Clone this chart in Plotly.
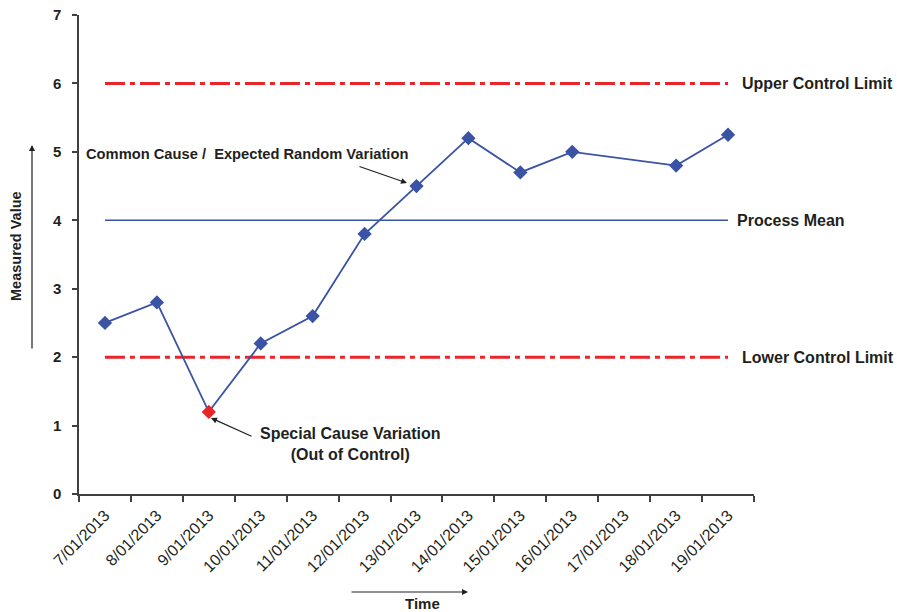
import plotly.graph_objects as go

# Daily measurements (17/01 has no reading)
dates = ["7/01/2013", "8/01/2013", "9/01/2013", "10/01/2013", "11/01/2013",
         "12/01/2013", "13/01/2013", "14/01/2013", "15/01/2013", "16/01/2013",
         "17/01/2013", "18/01/2013", "19/01/2013"]
values = [2.5, 2.8, 1.2, 2.2, 2.6, 3.8, 4.5, 5.2, 4.7, 5.0, None, 4.8, 5.25]
out_of_control = ["9/01/2013"]

process_mean = 4
upper_limit = 6
lower_limit = 2
y_ticks = [0, 1, 2, 3, 4, 5, 6, 7]

W, H = 897, 612
ML, MR, MT, MB = 79, 143, 15, 118
PW, PH = W - ML - MR, H - MT - MB

BLUE = "#3A53A4"
RED = "#E8262A"
INK = "#231F20"
AXIS = "#404040"
FONT = "Liberation Sans, Arial, sans-serif"


def px(x):
    return (x - ML) / PW


def py(y):
    return 1 - (y - MT) / PH


marker_colors = [RED if d in out_of_control else BLUE for d in dates]
limit_dash = "20px,5px,5px,5px"

fig = go.Figure()

fig.add_trace(go.Scatter(x=[dates[0], dates[-1]], y=[upper_limit, upper_limit],
                         mode="lines", line=dict(color=RED, width=3, dash=limit_dash),
                         hoverinfo="skip"))
fig.add_trace(go.Scatter(x=[dates[0], dates[-1]], y=[lower_limit, lower_limit],
                         mode="lines", line=dict(color=RED, width=3, dash=limit_dash),
                         hoverinfo="skip"))
fig.add_trace(go.Scatter(x=[dates[0], dates[-1]], y=[process_mean, process_mean],
                         mode="lines", line=dict(color=BLUE, width=1.5),
                         hoverinfo="skip"))
fig.add_trace(go.Scatter(x=dates, y=values, mode="lines+markers", connectgaps=True,
                         line=dict(color=BLUE, width=1.8),
                         marker=dict(symbol="diamond", size=11, color=marker_colors,
                                     line=dict(width=0))))

label_font = dict(family=FONT, size=16, color=INK, weight="bold")
arrow = dict(showarrow=True, arrowhead=2, arrowsize=1, arrowwidth=1.2,
             arrowcolor=INK, text="", xref="paper", yref="paper")

annotations = [
    dict(x=px(740), y=upper_limit, xref="paper", yref="y", text="Upper Control Limit",
         showarrow=False, xanchor="left", yanchor="middle", font=label_font),
    dict(x=px(735), y=process_mean, xref="paper", yref="y", text="Process Mean",
         showarrow=False, xanchor="left", yanchor="middle", font=label_font),
    dict(x=px(740), y=lower_limit, xref="paper", yref="y", text="Lower Control Limit",
         showarrow=False, xanchor="left", yanchor="middle", font=label_font),
    dict(x=px(84), y=py(154), xref="paper", yref="paper",
         text="Common Cause /  Expected Random Variation",
         showarrow=False, xanchor="left", yanchor="middle",
         font=dict(label_font, size=14.7)),
    dict(arrow, x=px(407), y=py(183), ax=-49, ay=-17),
    dict(x=px(350), y=py(444), xref="paper", yref="paper",
         text="Special Cause Variation<br>(Out of Control)",
         showarrow=False, xanchor="center", yanchor="middle", align="center",
         font=label_font),
    dict(arrow, x=px(211), y=py(418), ax=42, ay=19),
    dict(x=px(16), y=py(246), xref="paper", yref="paper", text="Measured Value",
         showarrow=False, textangle=-90, xanchor="center", yanchor="middle",
         font=dict(family=FONT, size=14.5, color=INK, weight="bold")),
    dict(arrow, x=px(32), y=py(145), ax=0, ay=205),
    dict(x=px(422), y=py(603), xref="paper", yref="paper", text="Time",
         showarrow=False, xanchor="center", yanchor="middle",
         font=dict(family=FONT, size=15, color=INK, weight="bold")),
    dict(arrow, x=px(468), y=py(592), ax=-118, ay=0),
]

fig.update_layout(
    width=W, height=H,
    margin=dict(l=ML, r=MR, t=MT, b=MB, pad=0, autoexpand=False),
    paper_bgcolor="white", plot_bgcolor="white",
    showlegend=False,
    annotations=annotations,
    xaxis=dict(type="category", categoryorder="array", categoryarray=dates,
               range=[-0.5, len(dates) - 0.5], showgrid=False, zeroline=False,
               showline=True, linecolor=AXIS, linewidth=1.5, automargin=False,
               ticks="outside", tickson="boundaries", ticklen=6, tickcolor=AXIS,
               tickwidth=1.5, tickangle=-45, ticklabelstandoff=4,
               tickfont=dict(family=FONT, size=16, color=INK)),
    yaxis=dict(range=[0, 7], tickvals=y_ticks, showgrid=False, zeroline=False,
               showline=True, linecolor=AXIS, linewidth=1.5, automargin=False,
               ticks="outside", ticklen=5, tickcolor=AXIS, tickwidth=1.5,
               ticklabelstandoff=8,
               tickfont=dict(family=FONT, size=15, color=INK, weight="bold")),
)

fig.write_html("out.html")
